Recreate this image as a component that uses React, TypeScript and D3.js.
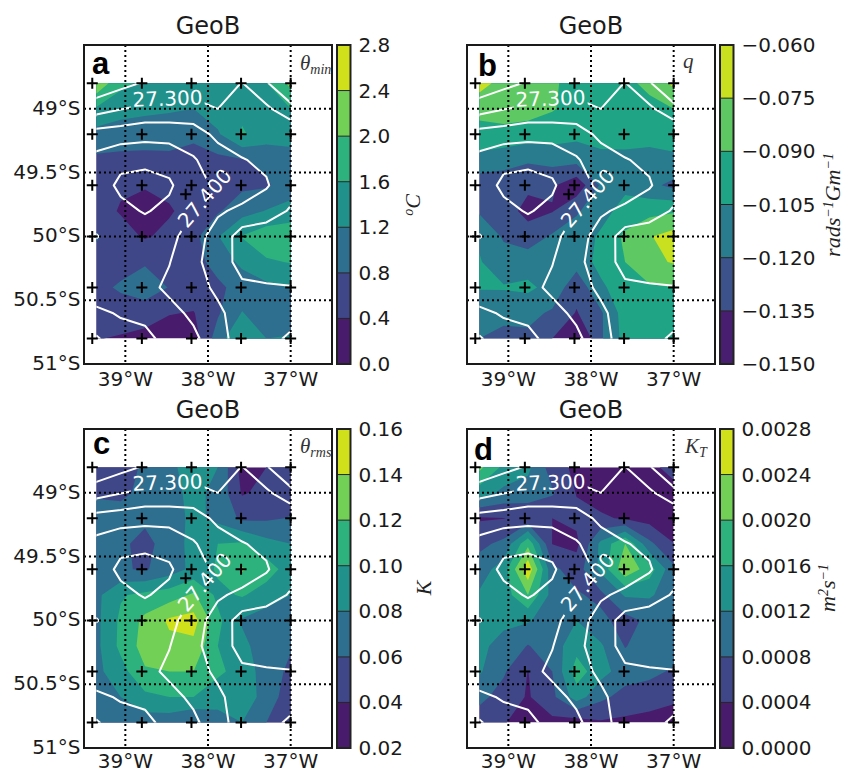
import React from "react";
import * as d3 from "d3";

const stationLon = [-39.4, -38.8, -38.2, -37.6, -37.0];
const stationLat = [-48.8, -49.2, -49.6, -50.0, -50.4, -50.8];
const extraStation = [-38.27, -49.67];
const lonTicks = [-39, -38, -37];
const latTicks = [-49, -49.5, -50, -50.5, -51];
const lonTickLabels = ["39°W", "38°W", "37°W"];
const latTickLabels = ["49°S", "49.5°S", "50°S", "50.5°S", "51°S"];
const gridLon = [-39.35, -37.0];
const gridLat = [-48.8, -50.8];

const density = [
  [27.21,27.235,27.255,27.265,27.27,27.27,27.302,27.255,27.20],
  [27.28,27.298,27.31,27.315,27.32,27.30,27.325,27.31,27.265],
  [27.37,27.375,27.385,27.38,27.37,27.34,27.33,27.335,27.345],
  [27.415,27.44,27.435,27.435,27.405,27.37,27.352,27.342,27.335],
  [27.43,27.458,27.475,27.456,27.42,27.39,27.37,27.354,27.32],
  [27.43,27.44,27.453,27.44,27.40,27.355,27.342,27.325,27.295],
  [27.452,27.43,27.43,27.42,27.365,27.335,27.276,27.27,27.27],
  [27.425,27.42,27.415,27.402,27.36,27.33,27.28,27.275,27.27],
  [27.42,27.43,27.415,27.39,27.37,27.34,27.31,27.305,27.302],
  [27.46,27.445,27.435,27.415,27.39,27.36,27.325,27.315,27.325],
  [27.505,27.47,27.465,27.43,27.41,27.37,27.325,27.33,27.36],
];
const densityLevels = [27.25, 27.3, 27.35, 27.4, 27.45, 27.5];

const thetaMin = [
  [2.3,1.7,1.5,1.4,1.4,1.45,1.5,1.58,2.1],
  [1.55,1.35,1.28,1.25,1.2,1.4,1.5,1.5,1.6],
  [1.05,1.0,1.0,0.95,0.9,1.15,1.65,1.4,1.35],
  [0.72,0.7,0.68,0.72,0.62,0.7,0.77,0.9,1.05],
  [0.6,0.45,0.42,0.5,0.55,0.6,0.72,0.75,1.0],
  [0.55,0.37,0.3,0.36,0.55,0.75,1.05,1.22,1.35],
  [0.85,0.55,0.36,0.5,0.68,1.18,1.62,1.85,1.9],
  [0.62,0.65,0.75,0.72,0.65,0.95,1.3,1.55,1.62],
  [0.7,0.85,1.05,0.78,0.65,0.72,0.95,1.1,1.22],
  [0.8,0.62,0.55,0.42,0.38,0.75,1.22,0.95,0.85],
  [0.42,0.36,0.3,0.2,0.2,1.0,1.65,1.2,1.25],
];
const thetaMinLevels = [0, 0.4, 0.8, 1.2, 1.6, 2.0, 2.4, 2.8];
const thetaMinLabels = ["0.0", "0.4", "0.8", "1.2", "1.6", "2.0", "2.4", "2.8"];

const qValues = [
  [-0.07,-0.08,-0.08,-0.088,-0.095,-0.098,-0.095,-0.085,-0.072],
  [-0.084,-0.081,-0.083,-0.089,-0.095,-0.098,-0.095,-0.096,-0.09],
  [-0.097,-0.096,-0.098,-0.098,-0.101,-0.101,-0.097,-0.097,-0.1],
  [-0.109,-0.113,-0.118,-0.115,-0.115,-0.108,-0.1105,-0.113,-0.1073],
  [-0.13,-0.13,-0.132,-0.133,-0.145,-0.118,-0.108,-0.116,-0.124],
  [-0.122,-0.128,-0.14,-0.136,-0.122,-0.11,-0.1,-0.095,-0.092],
  [-0.107,-0.122,-0.128,-0.118,-0.112,-0.103,-0.087,-0.076,-0.069],
  [-0.104,-0.113,-0.112,-0.112,-0.114,-0.1,-0.09,-0.078,-0.074],
  [-0.104,-0.104,-0.102,-0.11,-0.13,-0.108,-0.096,-0.092,-0.09],
  [-0.115,-0.114,-0.116,-0.122,-0.136,-0.122,-0.098,-0.097,-0.096],
  [-0.12,-0.126,-0.123,-0.135,-0.155,-0.122,-0.1,-0.098,-0.092],
];
const qLevels = [-0.15, -0.135, -0.12, -0.105, -0.09, -0.075, -0.06];
const qLabels = ["−0.150", "−0.135", "−0.120", "−0.105", "−0.090", "−0.075", "−0.060"];

const thetaRms = [
  [0.052,0.052,0.063,0.075,0.09,0.08,0.032,0.04,0.05],
  [0.057,0.055,0.066,0.074,0.085,0.075,0.038,0.045,0.052],
  [0.07,0.07,0.065,0.07,0.085,0.075,0.056,0.057,0.061],
  [0.072,0.065,0.052,0.072,0.085,0.1,0.103,0.087,0.08],
  [0.07,0.062,0.058,0.07,0.085,0.103,0.122,0.11,0.09],
  [0.075,0.098,0.105,0.11,0.123,0.095,0.102,0.09,0.08],
  [0.075,0.104,0.125,0.143,0.148,0.105,0.078,0.07,0.07],
  [0.075,0.105,0.128,0.135,0.135,0.1,0.085,0.07,0.062],
  [0.075,0.092,0.118,0.12,0.12,0.105,0.09,0.072,0.055],
  [0.07,0.08,0.095,0.1,0.1,0.085,0.095,0.07,0.05],
  [0.07,0.072,0.07,0.068,0.058,0.075,0.08,0.06,0.047],
];
const thetaRmsLevels = [0.02, 0.04, 0.06, 0.08, 0.1, 0.12, 0.14, 0.16];
const thetaRmsLabels = ["0.02", "0.04", "0.06", "0.08", "0.10", "0.12", "0.14", "0.16"];

const ktValues = [
  [0.0021,0.0015,0.0013,0.0006,0.0003,0.0002,0.00015,0.00025,0.0006],
  [0.0014,0.0011,0.001,0.00085,0.00038,0.00025,0.00015,0.00015,0.0002],
  [0.00036,0.00039,0.0005,0.0004,0.0005,0.00045,0.00036,0.00025,0.0002],
  [0.0007,0.0009,0.0019,0.00039,0.0003,0.0013,0.002,0.0009,0.00041],
  [0.001,0.0014,0.0027,0.0009,0.0006,0.0013,0.0023,0.0018,0.0009],
  [0.00125,0.0014,0.002,0.00105,0.00085,0.0007,0.00125,0.00125,0.001],
  [0.0013,0.0013,0.00125,0.00095,0.0012,0.0009,0.00065,0.0009,0.001],
  [0.0013,0.00105,0.00078,0.001,0.00145,0.00125,0.00078,0.001,0.001],
  [0.00125,0.00085,0.00039,0.0008,0.0018,0.00135,0.001,0.0009,0.00075],
  [0.0009,0.00065,0.00036,0.0007,0.0014,0.0009,0.00065,0.0006,0.00048],
  [0.0006,0.00043,0.0002,0.0003,0.0002,0.00035,0.00032,0.00025,0.0002],
];
const ktLevels = [0, 0.0004, 0.0008, 0.0012, 0.0016, 0.002, 0.0024, 0.0028];
const ktLabels = ["0.0000", "0.0004", "0.0008", "0.0012", "0.0016", "0.0020", "0.0024", "0.0028"];

const SANS = "'DejaVu Sans', sans-serif";
const SERIF = "'Liberation Serif', serif";
const BOLD = "'Liberation Sans', Arial, sans-serif";
const INK = "#1a1a1a";

const sup = (s: string, key: string) => (
  <tspan key={key} dy={-7} fontSize={14}>{s}</tspan>
);
const back = (s: string, key: string) => (
  <tspan key={key} dy={7}>{s}</tspan>
);

function Panel(props: {
  id: string; left: number; top: number; values: number[][]; levels: number[]; labels: string[];
  letter: string; letterX: number; letterY: number; tag: React.ReactNode; tagX: number; tagY: number;
  unit: React.ReactNode; unitX: number; unitY: number; showLat: boolean; lonLabelGap: number;
}) {
  const { id, left, top, values, levels, labels, letter, letterX, letterY, tag, tagX, tagY, unit, unitX, unitY, showLat, lonLabelGap } = props;
  const W = 248, H = 319;
  const x = d3.scaleLinear([-39.5, -36.5], [left, left + W]);
  const y = d3.scaleLinear([-48.5, -51], [top, top + H]);
  const nx = values[0].length, ny = values.length;
  const gx = d3.scaleLinear([0, nx - 1], [x(gridLon[0]), x(gridLon[1])]);
  const gy = d3.scaleLinear([0, ny - 1], [y(gridLat[0]), y(gridLat[1])]);
  const path = d3.geoPath(d3.geoTransform({
    point(this: any, a: number, b: number) { this.stream.point(gx(a - 0.5), gy(b - 0.5)); },
  }));
  const nBands = levels.length - 1;
  const color = (i: number) => d3.interpolateViridis((i + 0.5) / nBands);
  const contour = d3.contours().size([nx, ny]);
  const flat = values.flat();
  const flatD = density.flat();
  const clipX = x(gridLon[0]), clipY = y(gridLat[0]);
  const clipW = x(gridLon[1]) - clipX, clipH = y(gridLat[1]) - clipY;
  const barX = left + W + 5, barW = 13.5;
  const bar = d3.scaleLinear([levels[0], levels[nBands]], [top + H, top]);
  const l1 = [x(-38.49), y(-48.92)];
  const l2 = [x(-38.04), y(-49.7)];
  const stations: number[][] = [];
  stationLat.forEach((la) => stationLon.forEach((lo) => stations.push([lo, la])));
  stations.push(extraStation);
  return (
    <g>
      <defs>
        <clipPath id={`clip-${id}`}><rect x={clipX} y={clipY} width={clipW} height={clipH} /></clipPath>
        <mask id={`mask-${id}`} maskUnits="userSpaceOnUse" x={left} y={top} width={W} height={H}>
          <rect x={left} y={top} width={W} height={H} fill="#fff" />
          <rect x={l1[0] - 37} y={l1[1] - 12} width={74} height={24} fill="#000" transform={`rotate(-2 ${l1[0]} ${l1[1]})`} />
          <rect x={l2[0] - 40} y={l2[1] - 12} width={80} height={24} fill="#000" transform={`rotate(-49 ${l2[0]} ${l2[1]})`} />
        </mask>
      </defs>
      <text x={left + W / 2} y={top - 11} textAnchor="middle" fontFamily={SANS} fontSize={24} fill={INK}>GeoB</text>
      <g clipPath={`url(#clip-${id})`}>
        <rect x={clipX} y={clipY} width={clipW} height={clipH} fill={color(0)} />
        {d3.range(1, nBands).map((i) => (
          <path key={i} d={path(contour.thresholds([levels[i]])(flat)[0] as any) ?? ""} fill={color(i)} />
        ))}
        <g mask={`url(#mask-${id})`}>
          {densityLevels.map((lv) => (
            <path key={lv} d={path(contour.thresholds([lv])(flatD)[0] as any) ?? ""} fill="none" stroke="#fff" strokeWidth={2} strokeLinejoin="round" />
          ))}
        </g>
      </g>
      <text x={l1[0]} y={l1[1]} dy={7} textAnchor="middle" fontFamily={SANS} fontSize={20} fill="#fff" transform={`rotate(-2 ${l1[0]} ${l1[1]})`}>27.300</text>
      <text x={l2[0]} y={l2[1]} dy={7} textAnchor="middle" fontFamily={SANS} fontSize={20} fill="#fff" transform={`rotate(-49 ${l2[0]} ${l2[1]})`}>27.400</text>
      {lonTicks.map((t) => (
        <line key={t} x1={x(t)} x2={x(t)} y1={top} y2={top + H} stroke="#000" strokeWidth={2} strokeDasharray="2 3" />
      ))}
      {latTicks.map((t) => (
        <line key={t} x1={left} x2={left + W} y1={y(t)} y2={y(t)} stroke="#000" strokeWidth={2} strokeDasharray="2 3" />
      ))}
      {stations.map(([lo, la], i) => (
        <path key={i} d={`M${x(lo) - 5.5},${y(la)}h11M${x(lo)},${y(la) - 5.5}v11`} stroke="#000" strokeWidth={2} fill="none" />
      ))}
      <rect x={left} y={top} width={W} height={H} fill="none" stroke={INK} strokeWidth={2} />
      {lonTicks.map((t, i) => (
        <text key={t} x={x(t)} y={top + H + lonLabelGap} textAnchor="middle" fontFamily={SANS} fontSize={20} fill={INK}>{lonTickLabels[i]}</text>
      ))}
      {showLat && latTicks.map((t, i) => (
        <text key={t} x={left - 3.5} y={y(t) + 6} textAnchor="end" fontFamily={SANS} fontSize={20} fill={INK}>{latTickLabels[i]}</text>
      ))}
      <text x={letterX} y={letterY} fontFamily={BOLD} fontWeight="bold" fontSize={31} fill="#000">{letter}</text>
      <text x={tagX} y={tagY} fontFamily={SERIF} fontStyle="italic" fontSize={21} fill="#333">{tag}</text>
      {d3.range(nBands).map((i) => (
        <rect key={i} x={barX} y={bar(levels[i + 1])} width={barW} height={bar(levels[i]) - bar(levels[i + 1])} fill={color(i)} />
      ))}
      {levels.slice(1, -1).map((lv) => (
        <line key={lv} x1={barX} x2={barX + barW} y1={bar(lv)} y2={bar(lv)} stroke="#222" strokeWidth={1} />
      ))}
      <rect x={barX} y={top} width={barW} height={H} fill="none" stroke="#222" strokeWidth={2} />
      {levels.map((lv, i) => (
        <text key={lv} x={barX + barW + 8} y={bar(lv) + 7} fontFamily={SANS} fontSize={20} fill={INK}>{labels[i]}</text>
      ))}
      <text transform={`translate(${unitX},${unitY}) rotate(-90)`} textAnchor="middle" fontFamily={SERIF} fontStyle="italic" fontSize={22} fill="#222">{unit}</text>
    </g>
  );
}

export default function App() {
  return (
    <svg width={846} height={773} style={{ position: "absolute", left: 0, top: 0, background: "#fff" }}>
      <Panel id="a" left={84} top={45} values={thetaMin} levels={thetaMinLevels} labels={thetaMinLabels} letter="a" letterX={92} letterY={74}
        tag={<>θ<tspan dy={4} fontSize={14}>min</tspan></>} tagX={300} tagY={70}
        unit={<>{sup("o", "o")}{back("C", "c")}</>} unitX={420} unitY={205} showLat lonLabelGap={22} />
      <Panel id="b" left={467} top={45} values={qValues} levels={qLevels} labels={qLabels} letter="b" letterX={478} letterY={76}
        tag={<>q</>} tagX={683} tagY={68}
        unit={<>rads{sup("−1", "s")}{back("Gm", "g")}{sup("−1", "m")}</>} unitX={840} unitY={205} showLat={false} lonLabelGap={22} />
      <Panel id="c" left={84} top={429} values={thetaRms} levels={thetaRmsLevels} labels={thetaRmsLabels} letter="c" letterX={93} letterY={454}
        tag={<>θ<tspan dy={4} fontSize={14}>rms</tspan></>} tagX={300} tagY={453}
        unit={<>K</>} unitX={431} unitY={588} showLat lonLabelGap={20} />
      <Panel id="d" left={467} top={429} values={ktValues} levels={ktLevels} labels={ktLabels} letter="d" letterX={474} letterY={460}
        tag={<>K<tspan dy={4} fontSize={14}>T</tspan></>} tagX={685} tagY={453}
        unit={<>m{sup("2", "2")}{back("s", "s")}{sup("−1", "m1")}</>} unitX={835} unitY={588} showLat={false} lonLabelGap={20} />
    </svg>
  );
}
